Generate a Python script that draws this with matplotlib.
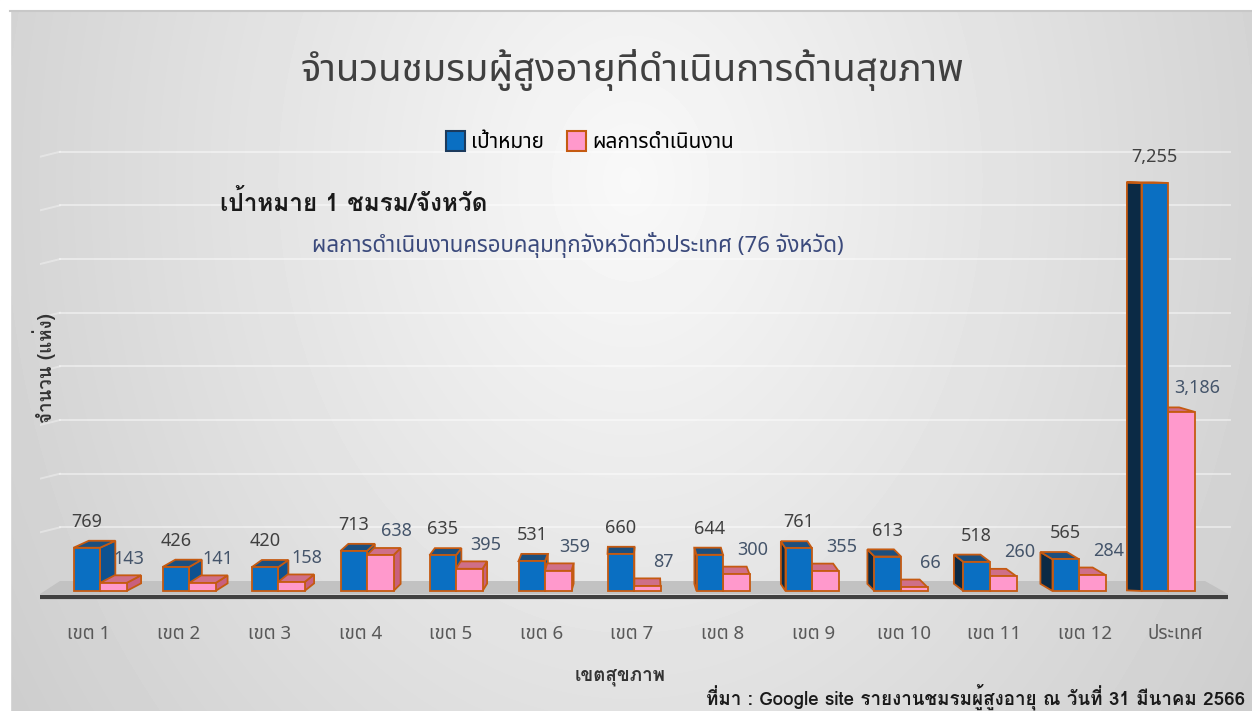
import numpy as np
import matplotlib
matplotlib.use('Agg')
import matplotlib.pyplot as plt
from matplotlib.patches import Polygon, Rectangle, Patch

# data
regions = ['เขต 1', 'เขต 2', 'เขต 3', 'เขต 4', 'เขต 5', 'เขต 6', 'เขต 7',
           'เขต 8', 'เขต 9', 'เขต 10', 'เขต 11', 'เขต 12', 'ประเทศ']
target = [769, 426, 420, 713, 635, 531, 660, 644, 761, 613, 518, 565, 7255]
result = [143, 141, 158, 638, 395, 359, 87, 300, 355, 66, 260, 284, 3186]
grid_vals = [1000, 2000, 3000, 4000, 5000, 6000, 7000, 8000]

title = 'จำนวนชมรมผู้สูงอายุที่ดำเนินการด้านสุขภาพ'
series_names = ['เป้าหมาย', 'ผลการดำเนินงาน']
note1 = 'เป้าหมาย 1 ชมรม/จังหวัด'
note2 = 'ผลการดำเนินงานครอบคลุมทุกจังหวัดทั่วประเทศ (76 จังหวัด)'
source = 'ที่มา : Google site รายงานชมรมผู้สูงอายุ ณ วันที่ 31 มีนาคม 2566'

LOOPLESS = ['Noto Sans Thai', 'DejaVu Sans']
LOOPED = ['Loma', 'Noto Sans Thai Looped', 'DejaVu Sans']

W, H = 1252, 711
fig = plt.figure(figsize=(W / 100, H / 100), dpi=100)

# background gradient
bg = fig.add_axes([0, 0, 1, 1], zorder=0)
yy, xx = np.mgrid[0:H, 0:W]
r = np.sqrt(((xx - 630) / 700.0) ** 2 + ((yy - 180) / 900.0) ** 2)
shade = np.clip(0.975 - 0.16 * r, 0, 1)
bg.imshow(shade, cmap='gray', vmin=0, vmax=1, aspect='auto', extent=[0, W, H, 0])
bg.add_patch(Rectangle((0, 0), W, 10, color='white'))
bg.add_patch(Rectangle((0, 0), 10, H, color='white'))
bg.plot([10, W], [10.5, 10.5], color='#c8c8c8', lw=1.5)
bg.set_xlim(0, W)
bg.set_ylim(H, 0)
bg.axis('off')

# main axes laid out in pixel-like units
PPX = 89.0      # pixels per category
UPP = 17.78     # value units per pixel
ax = fig.add_axes([40 / W, (H - 600) / H, 1195 / W, 450 / H], zorder=1)
ax.patch.set_alpha(0)
ax.set_xlim(-60 / PPX, 1135 / PPX)
ax.set_ylim(-9 * UPP, 441 * UPP)
for s in ax.spines.values():
    s.set_visible(False)
ax.set_yticks([])

def px_x(x):
    return 100 + x * PPX

def px_y(v):
    return 591 - v / UPP

# back wall gridlines
y_back = 10 * UPP
for g in grid_vals:
    gy = y_back + g * 0.954
    ax.plot([-40 / PPX, 1130 / PPX], [gy, gy], color='white', lw=1.4, alpha=0.45, zorder=1)
    ax.plot([-60 / PPX, -40 / PPX], [gy - 5 * UPP, gy], color='white', lw=1.4, alpha=0.35, zorder=1)

# floor
floor = Polygon([(-60 / PPX, -3 * UPP), (-40 / PPX, y_back), (1105 / PPX, y_back),
                 (1128 / PPX, -3 * UPP)], closed=True, facecolor='#c2c2c2',
                edgecolor='none', zorder=2)
ax.add_patch(floor)
ax.plot([-60 / PPX, 1128 / PPX], [-6 * UPP, -6 * UPP], color='#404040', lw=3,
        solid_capstyle='butt', zorder=3)

EDGE = '#c55a11'
bw = 26.5 / PPX

def box(x0, val, front, top, side_r, side_l, z):
    xc = px_x(x0 + bw / 2)
    top_px = px_y(val)
    dxp = (634 - xc) * 0.028
    dyp = max((top_px - 180) * 0.019, 0.6)
    dx = dxp / PPX
    dy = dyp * UPP
    x1 = x0 + bw
    if dx >= 0:
        side = [(x1, 0), (x1 + dx, dy), (x1 + dx, val + dy), (x1, val)]
        sc = side_r
    else:
        side = [(x0, 0), (x0 + dx, dy), (x0 + dx, val + dy), (x0, val)]
        sc = side_l
    ax.add_patch(Polygon(side, closed=True, facecolor=sc, edgecolor=EDGE, lw=1.3, zorder=z))
    topf = [(x0, val), (x1, val), (x1 + dx, val + dy), (x0 + dx, val + dy)]
    ax.add_patch(Polygon(topf, closed=True, facecolor=top, edgecolor=EDGE, lw=1.3, zorder=z))
    ax.bar(x0, val, width=bw, align='edge', bottom=0, color=front, edgecolor=EDGE,
           lw=1.3, zorder=z + 0.1)

idx = np.arange(len(regions))
for i in idx:
    xb = i - bw
    xp = i
    left_side = px_x(i) < 634
    zb, zp = (4, 5) if left_side else (5, 4)
    box(xb, target[i], '#0a6fc2', '#1c4f7e', '#0e5290', '#0b2a45', zb)
    box(xp, result[i], '#ff99cc', '#cf6f88', '#c8607e', '#c8607e', zp)
    ax.text(xb + bw / 2, target[i] + 26 * UPP, f'{target[i]:,}', ha='center', va='center',
            fontsize=13, color='#404040', family=LOOPLESS, zorder=6)
    ax.text(xp + bw / 2 + 16 / PPX, result[i] + 24 * UPP, f'{result[i]:,}', ha='center',
            va='center', fontsize=13, color='#44546a', family=LOOPLESS, zorder=6)

# category labels
tick_pos = 6 + (idx - 6) * (90.6 / PPX)
ax.set_xticks(tick_pos - 2 / PPX, regions)
ax.tick_params(axis='x', length=0, pad=18, labelsize=13.5, labelcolor='#595959')
for lbl in ax.get_xticklabels():
    lbl.set_family(LOOPLESS)

def fx(x):
    return x / W

def fy(y):
    return 1 - y / H

fig.text(fx(632), fy(70), title, ha='center', va='center', fontsize=27.5,
         color='#404040', family=LOOPLESS)

handles = [Patch(facecolor='#0a6fc2', edgecolor='#1c3a5c', lw=1.5),
           Patch(facecolor='#ff99cc', edgecolor=EDGE, lw=1.5)]
fig.legend(handles, series_names, loc='center', bbox_to_anchor=(fx(590), fy(142)),
           ncol=2, frameon=False, handlelength=0.9, handleheight=1.1, handletextpad=0.3,
           columnspacing=1.1, prop={'family': LOOPLESS, 'size': 15})

fig.text(fx(220), fy(203), note1, ha='left', va='center', fontsize=17.5, fontweight='bold',
         color='#1a1a1a', family=LOOPED)
fig.text(fx(312), fy(245), note2, ha='left', va='center', fontsize=16,
         color='#3b4a7c', family=LOOPLESS)

fig.text(fx(44), fy(368), 'จำนวน (แห่ง)', ha='center', va='center', rotation=90,
         fontsize=13.5, fontweight='bold', color='#333333', family=LOOPED)
fig.text(fx(620), fy(677), 'เขตสุขภาพ', ha='center', va='center', fontsize=13.5,
         fontweight='bold', color='#333333', family=LOOPED)
fig.text(fx(1245), fy(697), source, ha='right', va='center', fontsize=13.5,
         fontweight='bold', color='#1a1a1a', family=LOOPED)

fig.savefig('out.png', dpi=100)
